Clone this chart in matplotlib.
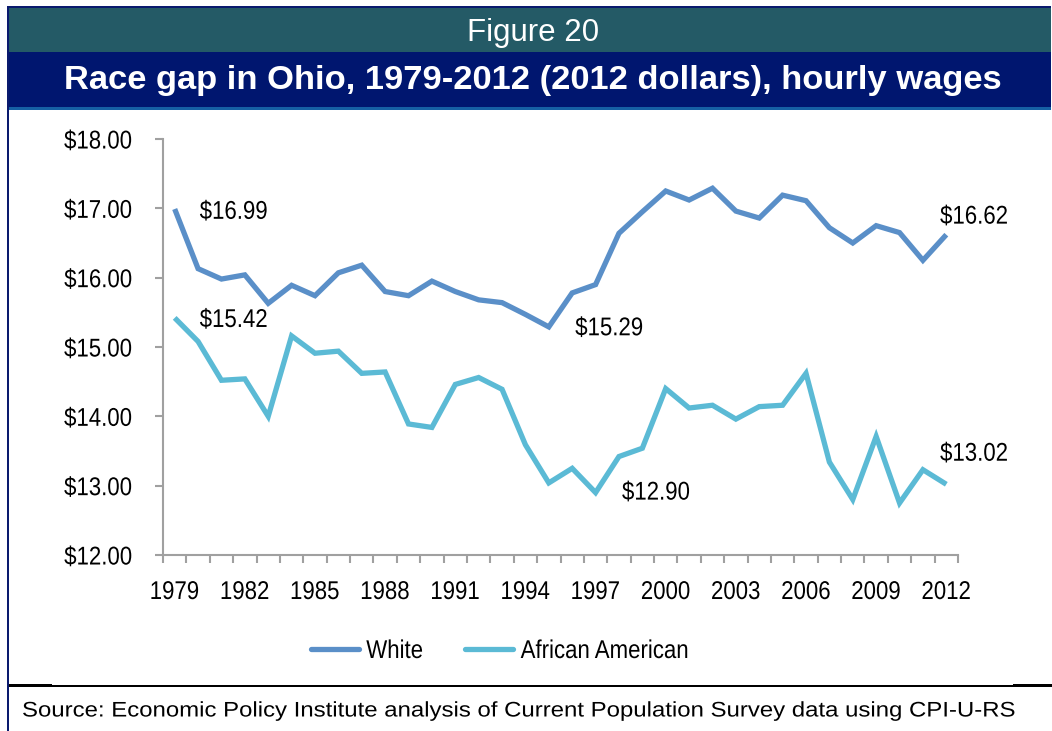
import matplotlib
matplotlib.use("Agg")
import matplotlib.pyplot as plt
from matplotlib.patches import Rectangle
from matplotlib.lines import Line2D
from matplotlib.ticker import FixedLocator, FuncFormatter
from matplotlib.patheffects import AbstractPathEffect
from matplotlib.transforms import Affine2D

years = list(range(1979, 2013))
white = [16.99, 16.13, 15.98, 16.04, 15.63, 15.89, 15.74, 16.07, 16.18, 15.80,
         15.74, 15.95, 15.80, 15.68, 15.64, 15.47, 15.29, 15.78, 15.90, 16.64,
         16.95, 17.25, 17.12, 17.29, 16.96, 16.86, 17.19, 17.11, 16.72, 16.50,
         16.75, 16.65, 16.25, 16.62]
african_american = [15.42, 15.08, 14.52, 14.54, 14.00, 15.16, 14.91, 14.94, 14.62, 14.64,
                    13.89, 13.84, 14.46, 14.56, 14.39, 13.59, 13.04, 13.25, 12.90, 13.42,
                    13.54, 14.40, 14.12, 14.16, 13.96, 14.14, 14.16, 14.62, 13.34, 12.80,
                    13.71, 12.75, 13.23, 13.02]
series_names = ["White", "African American"]
y_ticks = [12, 13, 14, 15, 16, 17, 18]
x_label_years = list(range(1979, 2013, 3))

fig_title = "Figure 20"
chart_title = "Race gap in Ohio, 1979-2012 (2012 dollars), hourly wages"
source = "Source: Economic Policy Institute analysis of Current Population Survey data using CPI-U-RS"

FONT = "Liberation Sans"
NARROW_SX = 0.865


class StretchX(AbstractPathEffect):
    """Draw text horizontally scaled about its left/centre/right edge."""

    def __init__(self, sx, anchor):
        super().__init__(offset=(0, 0))
        self.sx = sx
        self.anchor = anchor

    def draw_path(self, renderer, gc, tpath, affine, rgbFace=None):
        v = tpath.vertices
        if len(v) == 0:
            return
        x0, x1 = v[:, 0].min(), v[:, 0].max()
        cx = x0 + self.anchor * (x1 - x0)
        t = Affine2D().translate(-cx, 0).scale(self.sx, 1).translate(cx, 0)
        renderer.draw_path(gc, tpath, t + affine, rgbFace)


W, H = 1052, 731
fig = plt.figure(figsize=(W / 100, H / 100), dpi=100)


def px_rect(x0, y0, x1, y1, color, z=1):
    fig.patches.append(Rectangle((x0 / W, 1 - y1 / H), (x1 - x0) / W, (y1 - y0) / H,
                                 transform=fig.transFigure, facecolor=color,
                                 edgecolor="none", zorder=z))


# header bands and frame
px_rect(7, 6, 1050.5, 8.5, "#0a1a6e")
px_rect(7, 8.5, 1050.5, 52, "#245a66")
px_rect(7, 52, 1050.5, 107, "#00166f")
px_rect(7, 107, 1050.5, 109.5, "#1660a4")
px_rect(6.5, 6, 9, 731, "#0a1a6e")
px_rect(9, 685, 1052, 686.5, "#000000")
px_rect(9, 684, 52, 686.5, "#000000")
px_rect(1013, 684, 1052, 686.5, "#000000")

fig.text(533 / W, 1 - 33 / H, fig_title, color="white", family=FONT, fontsize=22.5,
         ha="center", va="center")
fig.text(533 / W, 1 - 80 / H, chart_title, color="white", family=FONT, fontsize=24.8,
         fontweight="bold", ha="center", va="center")
fig.text(22 / W, 1 - 711 / H, source, color="black", family=FONT, fontsize=15.2,
         ha="left", va="center", path_effects=[StretchX(1.135, 0.0)])

ax = fig.add_axes([163 / W, 1 - 555 / H, 795 / W, 416 / H])
xs = list(range(len(years)))
c_white = "#5a8fc8"
c_aa = "#5bbad5"
ax.plot(xs, white, color=c_white, lw=3.8, solid_joinstyle="miter", solid_capstyle="butt", zorder=3)
ax.plot(xs, african_american, color=c_aa, lw=3.8, solid_joinstyle="miter", solid_capstyle="butt", zorder=3)

ax.set_xlim(-0.5, len(years) - 0.5)
ax.set_ylim(y_ticks[0], y_ticks[-1])
for s in ["top", "right"]:
    ax.spines[s].set_visible(False)
for s in ["left", "bottom"]:
    ax.spines[s].set_color("#a0a0a0")
    ax.spines[s].set_linewidth(1.5)

ax.yaxis.set_major_locator(FixedLocator(y_ticks))
ax.yaxis.set_major_formatter(FuncFormatter(lambda v, p: f"${v:.2f}"))
ax.tick_params(axis="y", length=6, width=1.5, color="#a0a0a0", pad=16, labelsize=18.5)

label_pos = [years.index(y) for y in x_label_years]
ax.xaxis.set_major_locator(FixedLocator(label_pos))
ax.set_xticklabels([str(y) for y in x_label_years])
ax.xaxis.set_minor_locator(FixedLocator([i - 0.5 for i in range(len(years) + 1)]))
ax.tick_params(axis="x", which="major", length=0, pad=18, labelsize=18.5)
ax.tick_params(axis="x", which="minor", length=6, width=1.5, color="#a0a0a0")
for lab in ax.get_xticklabels():
    lab.set_family(FONT)
    lab.set_path_effects([StretchX(NARROW_SX, 0.5)])
for lab in ax.get_yticklabels():
    lab.set_family(FONT)
    lab.set_path_effects([StretchX(NARROW_SX, 1.0)])


def ann(series, year, dx, dy):
    i = years.index(year)
    v = series[i]
    ax.annotate(f"${v:.2f}", xy=(i, v), xytext=(dx, dy), textcoords="offset points",
                ha="left", va="center", fontsize=18.5, family=FONT, zorder=4,
                path_effects=[StretchX(NARROW_SX, 0.0)])


ann(white, 1979, 18, -2)
ann(african_american, 1979, 18, -1.5)
ann(white, 1995, 19, -1)
ann(african_american, 1997, 19, 0)
ann(white, 2012, -4.5, 13)
ann(african_american, 2012, -4.5, 22)

handles = [Line2D([], [], color=c_white, lw=3.8, solid_capstyle="round"),
           Line2D([], [], color=c_aa, lw=3.8, solid_capstyle="round")]
leg = fig.legend(handles, series_names, loc="center left",
                 bbox_to_anchor=(311 / W, 1 - 651 / H), borderaxespad=0, borderpad=0,
                 ncol=2, frameon=False, handlelength=1.85, handletextpad=0.3,
                 columnspacing=1.3, prop={"family": FONT, "size": 18.5})
for t in leg.get_texts():
    t.set_path_effects([StretchX(NARROW_SX, 0.0)])

fig.savefig("out.png", dpi=100)
